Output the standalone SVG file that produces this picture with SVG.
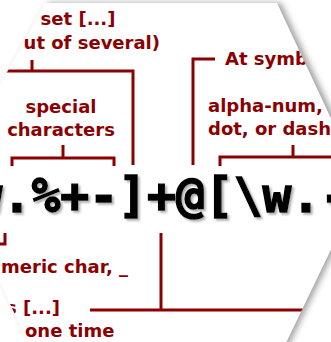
<svg xmlns="http://www.w3.org/2000/svg" width="331" height="342" viewBox="0 0 331 342">
<defs>
<style>
.lbl{font-family:"DejaVu Sans",Verdana,sans-serif;font-weight:bold;font-size:18px;fill:#8b0000}
.rx{font-family:"DejaVu Sans Mono",monospace;font-weight:bold;font-size:48px;fill:#000;stroke:#000;stroke-width:1.4}
.ln{stroke:#8b0000;stroke-width:3;fill:none}
</style>
<clipPath id="hex"><polygon points="45,3 277,3 362,185 273,370 41,370 -50,176"/></clipPath>
<filter id="sh" x="-20%" y="-20%" width="140%" height="140%"><feGaussianBlur stdDeviation="3"/></filter>
<filter id="ts" x="-10%" y="-20%" width="120%" height="140%">
<feGaussianBlur in="SourceAlpha" stdDeviation="1.2"/>
<feOffset dx="2" dy="2" result="b"/>
<feFlood flood-color="#777" flood-opacity="0.6"/>
<feComposite in2="b" operator="in" result="s"/>
<feMerge><feMergeNode in="s"/><feMergeNode in="SourceGraphic"/></feMerge>
</filter>
</defs>
<rect width="331" height="342" fill="#fff"/>
<polygon points="45,3 277,3 362,185 273,370 41,370 -50,176" fill="#555" opacity="0.55" filter="url(#sh)" transform="translate(4,0)"/>
<polygon points="45,3 277,3 362,185 273,370 41,370 -50,176" fill="#fff"/>
<g clip-path="url(#hex)">
<g id="connectors">
<path class="ln" d="M-10,71 H133 V165 M32,60 V71"/>
<path class="ln" d="M12,166 V158 H114 V166 M63,145 V158"/>
<path class="ln" d="M215,59 H193 V165"/>
<path class="ln" d="M220,166 V157 H345 M293,145 V157"/>
<path class="ln" d="M-30,244 H5 V233"/>
<path class="ln" d="M161,233 V310 M90,310 H345"/>
</g>
<g id="regex">
<text class="rx" x="-26.4" y="212" filter="url(#ts)">w.%+-]+@[\w.-</text>
</g>
<g id="set"><text class="lbl" x="78" y="25" text-anchor="middle">set [...]</text>
<text class="lbl" x="160" y="49" text-anchor="end">ut of several)</text></g>
<g id="special"><text class="lbl" x="61" y="113" text-anchor="middle">special</text>
<text class="lbl" x="61" y="136" text-anchor="middle">characters</text></g>
<g id="at"><text class="lbl" x="225" y="65">At symb</text></g>
<g id="alnum"><text class="lbl" x="208" y="112">alpha-num,</text>
<text class="lbl" x="208" y="135">dot, or dash</text></g>
<g id="wchar"><text class="lbl" x="128" y="273" text-anchor="end">meric char, _</text></g>
<g id="plus"><text class="lbl" x="60" y="314" text-anchor="end">s [...]</text>
<text class="lbl" x="25" y="337">one time</text></g>
</g>
</svg>
